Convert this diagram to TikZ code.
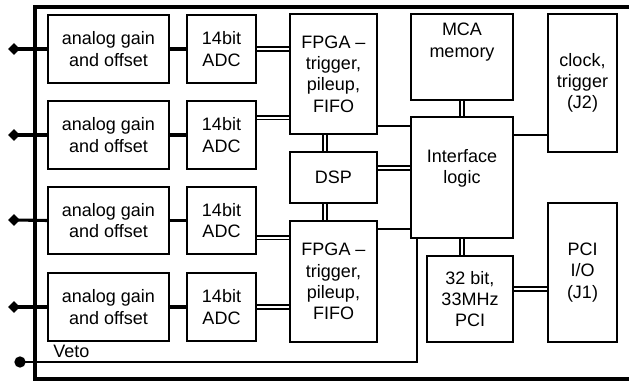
\documentclass[tikz,border=0pt]{standalone}
\usepackage{fontspec}
\setmainfont{Liberation Sans}
\usetikzlibrary{shapes.geometric,calc}
\tikzset{
  box/.style={draw, line width=1.5pt, rectangle, inner sep=0pt, align=center,
    font=\fontsize{13.5}{16}\selectfont},
  txt/.style={inner sep=0pt, align=center, font=\fontsize{13.5}{16}\selectfont},
  frame/.style={line width=2.3pt},
  thickline/.style={line width=2.3pt},
  wire/.style={line width=1.5pt},
  dbl/.style={double, line width=1.1pt, double distance=1.6pt},
  pin/.style={diamond, fill=black, inner sep=0pt, minimum width=9pt, minimum height=9pt},
  dot/.style={circle, fill=black, inner sep=0pt, minimum size=8.5pt},
}
\newcommand{\bx}[6]{%
  \node[box, minimum width={(#4-#2)*0.75pt}, minimum height={(#5-#3)*0.75pt}]
    (#1) at ({(#2+#4)/2},{(#3+#5)/2}) {#6};}
\begin{document}
\begin{tikzpicture}[x=0.75pt,y=-0.75pt]
\useasboundingbox (0,0) rectangle (629,381);
% frame
\draw[frame] (629,7) -- (35,7) -- (35,379) -- (629,379);
% analog boxes
\bx{ag1}{48}{15}{169}{83}{analog gain\\and offset}
\bx{ag2}{48}{101}{169}{169}{analog gain\\and offset}
\bx{ag3}{48}{187}{169}{254}{analog gain\\and offset}
\bx{ag4}{48}{273}{169}{341}{analog gain\\and offset}
% ADCs
\bx{adc1}{187}{15}{256}{83}{14bit\\ADC}
\bx{adc2}{187}{101}{256}{169}{14bit\\ADC}
\bx{adc3}{187}{187}{256}{254}{14bit\\ADC}
\bx{adc4}{187}{273}{256}{341}{14bit\\ADC}
% FPGA, DSP
\bx{fpga1}{290}{14}{377}{134}{FPGA --\\trigger,\\pileup,\\FIFO}
\bx{dsp}{290}{152}{377}{203}{DSP}
\bx{fpga2}{290}{221}{377}{342}{FPGA --\\trigger,\\pileup,\\FIFO}
% right side
\bx{mca}{411}{14}{513}{100}{}
\node[txt, anchor=north] (mcat) at ($(mca.north)+(0,10)$) {MCA\\memory};
\bx{iface}{411}{117}{513}{238}{}
\node[txt] (ifacet) at ($(iface.center)+(0,-9)$) {Interface\\logic};
\bx{clk}{548}{14}{617}{152}{clock,\\trigger\\(J2)}
\bx{pci}{427}{256}{513}{342}{32 bit,\\33MHz\\PCI}
\bx{pciio}{548}{203}{617}{342}{PCI\\I/O\\(J1)}
% inputs
\foreach \i/\y in {1/49,2/135,3/220,4/307}{
  \node[pin] (in\i) at (14,\y) {};
  \draw[thickline] (in\i.center) -- (ag\i.west);
  \draw[thickline] (ag\i.east) -- (adc\i.west);
}
% ADC -> FPGA
\draw[dbl] (adc1.east) -- (adc1.east -| fpga1.west);
\draw[dbl] ([yshift=13pt]adc2.east) -- ([yshift=13pt]adc2.east -| fpga1.west);
\draw[dbl] ([yshift=-13pt]adc3.east) -- ([yshift=-13pt]adc3.east -| fpga2.west);
\draw[dbl] (adc4.east) -- (adc4.east -| fpga2.west);
% FPGA/DSP verticals
\draw[dbl] ([xshift=-6.4pt]fpga1.south) -- ([xshift=-6.4pt]dsp.north);
\draw[dbl] ([xshift=-6.4pt]dsp.south) -- ([xshift=-6.4pt]fpga2.north);
% to interface
\coordinate (r1) at (0,126);
\coordinate (r2) at (0,168);
\coordinate (r3) at (0,229);
\coordinate (r4) at (0,135);
\coordinate (r5) at (0,289);
\draw[wire] (fpga1.east |- r1) -- (iface.west |- r1);
\draw[dbl] (dsp.east |- r2) -- (iface.west |- r2);
\draw[wire] (fpga2.east |- r3) -- (iface.west |- r3);
\draw[wire] (iface.east |- r4) -- (clk.west |- r4);
\draw[dbl] (mca.south) -- (iface.north);
\draw[dbl] (iface.south) -- (iface.south |- pci.north);
\draw[dbl] (pci.east |- r5) -- (pciio.west |- r5);
% veto
\node[dot] (vdot) at (20,362) {};
\coordinate (vc) at (417,362);
\draw[wire] (vdot.center) -- (vc) -- (vc |- iface.south);
\node[txt, anchor=base west] (veto) at (53,358) {Veto};
\end{tikzpicture}
\end{document}
